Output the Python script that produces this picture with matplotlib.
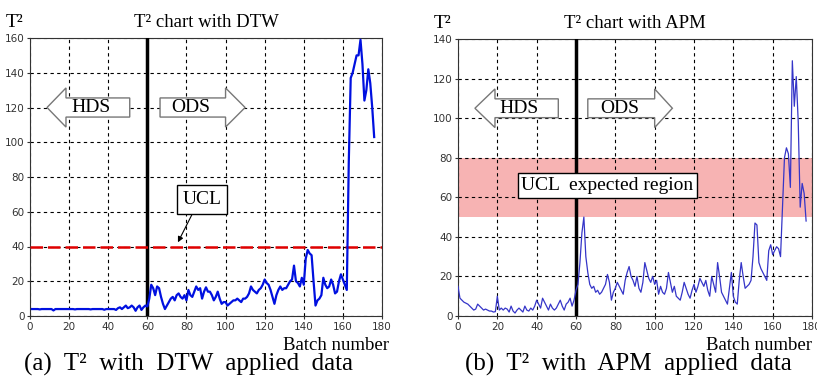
import numpy as np
import matplotlib
matplotlib.use('Agg')
import matplotlib.pyplot as plt
from matplotlib.patches import Polygon

# DTW applied T^2 values, batch 1..176
dtw_batch = np.arange(1, 177)
dtw_t2 = [4, 4, 4, 4, 3.8, 4, 4, 4, 4, 4,
          4, 3.2, 4, 4, 4, 4, 4, 4, 4, 4,
          4, 4, 3.8, 4, 4, 4, 4, 4, 4, 4,
          3.8, 4, 4, 4, 4, 4, 4, 3.6, 4, 4,
          4, 4, 4, 3.5, 4.5, 5, 4, 5, 6, 4.5,
          5, 6, 5, 3, 5, 6, 3.5, 5, 6, 5.5,
          10, 18, 16, 12, 17, 16, 11, 7, 4, 6,
          8, 10, 11, 9, 12, 13, 11, 10, 12, 9,
          15, 12, 11, 14, 17, 15, 16, 10, 14, 16.5,
          14, 14, 12, 9, 11, 14, 10, 7, 8, 8,
          6, 7, 8, 9, 9, 10, 9, 8, 10, 10,
          11, 13, 17, 15, 14, 13, 15, 16, 18, 21,
          19, 18, 15, 11, 7, 12, 15, 17, 15, 16,
          16, 18, 20, 21, 29, 20, 19, 17, 22, 18,
          33, 38, 36, 35, 20, 6, 9, 10, 12, 22,
          18, 16, 17, 21, 18, 13, 14, 20, 24, 21,
          18, 15, 88, 137, 140, 145, 150, 150, 159, 145,
          124, 130, 142, 134, 120, 103]

# APM applied T^2 values, batch 0..177
apm_batch = np.arange(0, 178)
apm_t2 = [15, 9, 8, 7, 6.5, 6, 5, 4, 3, 3.5,
          6, 5, 4, 3, 3.5, 3, 2.5, 2.5, 2, 2.2,
          10, 3, 4, 3, 4, 3.5, 2, 5, 2.5, 1.5,
          3, 4, 3, 2, 5, 3, 2.5, 4, 3, 5,
          8, 6, 4, 9, 7, 5, 3, 6, 4, 3,
          4, 6, 8, 5, 3, 6, 7, 9, 5, 8,
          13, 16, 27, 42, 50, 30, 22, 16, 14, 15,
          12, 13, 11, 12, 14, 16, 21, 17, 8, 12,
          14, 17, 15, 13, 11, 18, 22, 25, 20, 18,
          15, 20, 14, 12, 17, 27, 23, 19, 17, 20,
          16, 18, 11, 15, 12, 11, 14, 22, 17, 12,
          15, 10, 9, 8, 12, 17, 14, 11, 9, 13,
          16, 12, 15, 19, 17, 15, 18, 13, 10, 20,
          16, 12, 27, 20, 12, 10, 8, 6, 14, 22,
          10, 7, 6, 18, 27, 20, 14, 15, 16, 18,
          30, 47, 46, 27, 24, 22, 20, 18, 33, 36,
          31, 33, 35, 34, 30, 55, 80, 85, 82, 65,
          129, 106, 121, 98, 55, 67, 62, 48]

ucl_dtw = 40
ucl_band = (50, 80)

serif = 'Liberation Serif'
W, H = 817, 380
fig = plt.figure(figsize=(W / 100, H / 100), dpi=100)


def block_arrow(ax, x_tail, x_base, x_tip, yc, body_h, head_h):
    # x_tail: flat end, x_base: where head starts, x_tip: point
    pts = [(x_tail, yc - body_h / 2), (x_base, yc - body_h / 2),
           (x_base, yc - head_h / 2), (x_tip, yc), (x_base, yc + head_h / 2),
           (x_base, yc + body_h / 2), (x_tail, yc + body_h / 2)]
    ax.add_patch(Polygon(pts, closed=True, facecolor='white', edgecolor='#777777',
                         lw=1.0, zorder=4))


def setup(ax, ymax, title, xlab_right):
    ax.set_xlim(0, 180)
    ax.set_ylim(0, ymax)
    ax.set_xticks(range(0, 181, 20))
    ax.set_yticks(range(0, ymax + 1, 20))
    ax.tick_params(labelsize=7.5, length=2, pad=2, colors='#333333')
    ax.grid(True, color='black', ls=(0, (3, 3)), lw=0.8)
    for s in ax.spines.values():
        s.set_color('#333333')
    ax.axvline(60, color='black', lw=2.5, zorder=3)
    ax.text(0.5, 1.025, title, transform=ax.transAxes, ha='center', va='bottom',
            family=serif, fontsize=13.5)
    ax.text(-0.045, 1.025, 'T²', transform=ax.transAxes, ha='center', va='bottom',
            family=serif, fontsize=14)
    ax.text(xlab_right, -0.075, 'Batch number', transform=ax.transAxes, ha='right',
            va='top', family=serif, fontsize=13.5)


# (a) DTW
ax1 = fig.add_axes([30 / W, 1 - 316 / H, 352 / W, 278 / H])
setup(ax1, 160, 'T² chart with DTW', 1.02)
ax1.plot(dtw_batch, dtw_t2, color='#0010E0', lw=1.6, zorder=5)
ax1.axhline(ucl_dtw, color='#E00000', lw=1.8, ls=(0, (5, 2)), zorder=4)
block_arrow(ax1, 51, 18.4, 8.7, 120, 11, 22.5)
block_arrow(ax1, 66.5, 100, 110, 120, 11, 22.5)
ax1.text(31, 120, 'HDS', family=serif, fontsize=14, ha='center', va='center', zorder=5)
ax1.text(82, 120, 'ODS', family=serif, fontsize=14, ha='center', va='center', zorder=5)
ax1.annotate('', xy=(75, 41), xytext=(84, 61),
             arrowprops=dict(arrowstyle='-|>', color='black', lw=0.8, mutation_scale=8),
             zorder=6)
ax1.text(88, 67, 'UCL', family=serif, fontsize=14, ha='center', va='center', zorder=6,
         bbox=dict(boxstyle='square,pad=0.3', facecolor='white', edgecolor='black', lw=1))

# (b) APM
ax2 = fig.add_axes([458 / W, 1 - 316 / H, 354 / W, 277 / H])
setup(ax2, 140, 'T² chart with APM', 1.0)
ax2.axhspan(ucl_band[0], ucl_band[1], color='#F7B3B3', zorder=0.5, lw=0)
ax2.plot(apm_batch, apm_t2, color='#3535C8', lw=0.9, zorder=5)
block_arrow(ax2, 51, 18.8, 8.6, 105, 9.5, 19.5)
block_arrow(ax2, 66, 100, 109, 105, 9.5, 19.5)
ax2.text(31, 105, 'HDS', family=serif, fontsize=14, ha='center', va='center', zorder=5)
ax2.text(82, 105, 'ODS', family=serif, fontsize=14, ha='center', va='center', zorder=5)
ax2.text(76, 66, 'UCL  expected region', family=serif, fontsize=14, ha='center',
         va='center', zorder=6,
         bbox=dict(boxstyle='square,pad=0.2', facecolor='white', edgecolor='black', lw=1))

fig.text(188 / W, 1 - 364 / H, '(a)  T²  with  DTW  applied  data', family=serif,
         fontsize=18, ha='center', va='center')
fig.text(628 / W, 1 - 364 / H, '(b)  T²  with  APM  applied  data', family=serif,
         fontsize=18, ha='center', va='center')

fig.savefig('out.png', dpi=100)
